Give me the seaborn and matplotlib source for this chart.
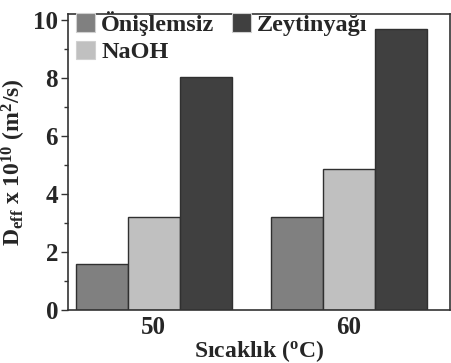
import matplotlib
matplotlib.use("Agg")
import matplotlib.pyplot as plt
import seaborn as sns
import pandas as pd
from matplotlib.ticker import MultipleLocator

temperatures = ["50", "60"]
treatments = ["Önişlemsiz", "NaOH", "Zeytinyağı"]
onislemsiz = [1.6, 3.2]
naoh = [3.2, 4.85]
zeytinyagi = [8.05, 9.7]
colors = ["#808080", "#c0c0c0", "#404040"]

df = pd.DataFrame({
    "Sıcaklık": temperatures * 3,
    "Yöntem": [t for t in treatments for _ in temperatures],
    "Deff": onislemsiz + naoh + zeytinyagi,
})

sns.set_style("ticks")
plt.rcParams["font.family"] = ["Liberation Serif", "DejaVu Serif"]
plt.rcParams["font.weight"] = "bold"
plt.rcParams["mathtext.fontset"] = "custom"
plt.rcParams["mathtext.rm"] = "Liberation Serif:bold"
plt.rcParams["mathtext.it"] = "Liberation Serif:bold"
plt.rcParams["mathtext.bf"] = "Liberation Serif:bold"

fig = plt.figure(figsize=(4.52, 3.63), dpi=100)
ax = fig.add_axes([0.150, 0.146, 0.846, 0.815])

sns.barplot(data=df, x="Sıcaklık", y="Deff", hue="Yöntem", hue_order=treatments,
            order=temperatures, palette=colors, width=0.8, edgecolor="#303030",
            linewidth=1.0, saturation=1, ax=ax)

ax.set_xlim(-0.44, 1.52)
ax.set_ylim(0, 10.2)
ax.yaxis.set_major_locator(MultipleLocator(2))
ax.yaxis.set_minor_locator(MultipleLocator(1))
ax.tick_params(axis="y", which="major", length=5, width=1, labelsize=18, pad=2, color="#333333")
ax.tick_params(axis="y", which="minor", length=3, width=1, color="#333333")
ax.tick_params(axis="x", length=0, labelsize=18, pad=4)
for lab in ax.get_xticklabels() + ax.get_yticklabels():
    lab.set_fontweight("bold")

for side in ["left", "bottom", "top", "right"]:
    ax.spines[side].set_visible(True)
    ax.spines[side].set_color("#333333")
    ax.spines[side].set_linewidth(1.2)

ax.set_xlabel("Sıcaklık ($^\\mathrm{o}$C)", fontsize=17, fontweight="bold", labelpad=0)
ax.set_ylabel("D$_\\mathrm{eff}$ x 10$^\\mathrm{10}$ (m$^\\mathrm{2}$/s)", fontsize=17,
              fontweight="bold", labelpad=4)

leg = ax.legend(ncol=2, loc="upper left", bbox_to_anchor=(0.008, 1.027), frameon=False,
                handlelength=0.8, handleheight=0.8, handletextpad=0.25, columnspacing=0.7,
                borderaxespad=0.0, borderpad=0.2, labelspacing=0.2,
                prop={"family": "Liberation Serif", "weight": "bold", "size": 17.5})
for patch in leg.get_patches():
    patch.set_edgecolor("#d0d0d0")
    patch.set_linewidth(0.8)

fig.savefig("out.png", dpi=100)
